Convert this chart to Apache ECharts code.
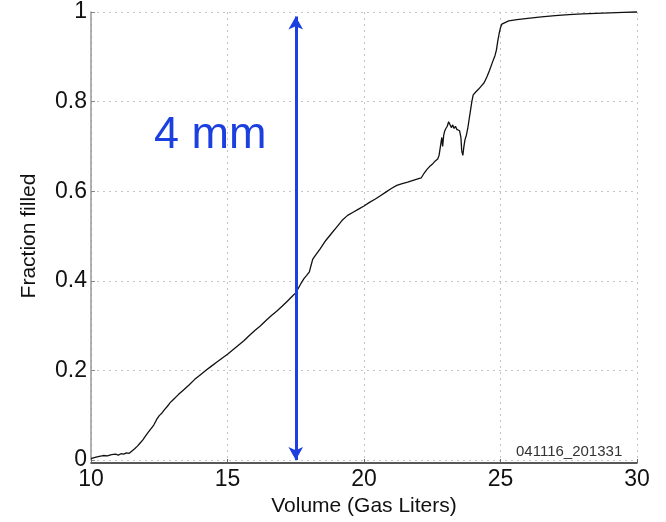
<!DOCTYPE html>
<html>
<head>
<meta charset="utf-8">
<script src="https://cdn.jsdelivr.net/npm/echarts@6/dist/echarts.min.js"></script>
<style>html,body{margin:0;padding:0;background:#fff;}#c{width:666px;height:522px;}</style>
</head>
<body>
<div id="c"></div>
<script>
const volume = [10.0,10.15,10.3,10.45,10.6,10.75,10.9,11.0,11.1,11.2,11.3,11.4,11.5,11.6,11.7,11.8,11.9,12.0,12.1,12.2,12.3,12.4,12.5,12.6,12.7,12.8,12.9,13.0,13.2,13.4,13.6,13.8,14.0,14.2,14.4,14.6,14.8,15.0,15.2,15.4,15.6,15.8,16.0,16.2,16.4,16.6,16.8,17.0,17.2,17.4,17.5,17.6,17.7,17.8,17.9,18.0,18.05,18.1,18.12,18.2,18.4,18.6,18.8,19.0,19.2,19.4,19.6,19.8,20.0,20.2,20.4,20.6,20.8,21.0,21.2,21.4,21.6,21.8,22.0,22.1,22.2,22.3,22.4,22.5,22.6,22.7,22.75,22.8,22.85,22.88,22.92,22.96,23.0,23.05,23.1,23.15,23.2,23.25,23.3,23.35,23.4,23.45,23.5,23.55,23.58,23.62,23.66,23.7,23.75,23.8,23.85,23.9,23.95,24.0,24.1,24.2,24.3,24.4,24.5,24.6,24.7,24.8,24.85,24.9,24.95,25.0,25.05,25.1,25.3,25.6,26.0,26.5,27.0,27.5,28.0,28.5,29.0,29.5,30.0];
const fraction = [0.003,0.006,0.008,0.010,0.009,0.012,0.013,0.011,0.014,0.013,0.016,0.015,0.020,0.025,0.031,0.038,0.045,0.054,0.062,0.070,0.078,0.090,0.099,0.105,0.113,0.120,0.128,0.134,0.146,0.157,0.168,0.180,0.190,0.200,0.209,0.218,0.227,0.236,0.246,0.256,0.266,0.278,0.289,0.299,0.311,0.322,0.332,0.343,0.355,0.367,0.373,0.384,0.395,0.405,0.412,0.420,0.432,0.428,0.448,0.455,0.472,0.490,0.505,0.520,0.535,0.546,0.553,0.560,0.567,0.575,0.582,0.590,0.598,0.606,0.613,0.617,0.620,0.624,0.628,0.630,0.640,0.648,0.655,0.660,0.667,0.672,0.680,0.700,0.720,0.700,0.725,0.735,0.740,0.745,0.755,0.752,0.742,0.748,0.740,0.745,0.738,0.735,0.735,0.720,0.690,0.680,0.700,0.715,0.725,0.740,0.760,0.780,0.800,0.815,0.822,0.828,0.835,0.842,0.855,0.870,0.887,0.903,0.915,0.935,0.952,0.965,0.973,0.977,0.980,0.983,0.986,0.989,0.992,0.994,0.996,0.997,0.998,0.999,1.000];
const xTicks = [10,15,20,25,30];
const yTicks = [0,0.2,0.4,0.6,0.8,1];
const arrowX = 17.5;
const arrowRange = [0, 0.99];
const annotation = '4 mm';
const stamp = '041116_201331';

const chart = echarts.init(document.getElementById('c'), null, {renderer:'canvas'});
const font = 'Liberation Sans, Arial, Helvetica, sans-serif';
chart.setOption({
  animation:false,
  backgroundColor:'#fff',
  grid:{left:91,right:29,top:12,bottom:60,containLabel:false},
  xAxis:{
    type:'value',min:xTicks[0],max:xTicks[xTicks.length-1],interval:5,
    offset:3,
    name:'Volume (Gas Liters)',nameLocation:'middle',nameGap:33,
    nameTextStyle:{fontFamily:font,fontSize:21,color:'#111'},
    axisLine:{show:true,onZero:false,lineStyle:{color:'#222',width:1.5}},
    axisTick:{show:true,inside:true,length:4,lineStyle:{color:'#666'}},
    axisLabel:{fontFamily:font,fontSize:23,color:'#111',margin:5},
    splitLine:{show:true,lineStyle:{type:[2,4],color:'#c4c4c4',width:1}}
  },
  yAxis:{
    type:'value',min:0,max:1,interval:0.2,
    name:'Fraction filled',nameLocation:'middle',nameGap:51,nameRotate:90,
    nameTextStyle:{fontFamily:font,fontSize:21,color:'#111'},
    axisLine:{show:true,lineStyle:{color:'#999',width:1.5}},
    axisTick:{show:true,inside:true,length:4,lineStyle:{color:'#888'}},
    axisLabel:{fontFamily:font,fontSize:23,color:'#111',margin:4,
      formatter:v=>String(Math.round(v*10)/10)},
    splitLine:{show:true,lineStyle:{type:[2,4],color:'#c4c4c4',width:1}}
  },
  series:[{
    type:'line',
    data:volume.map((v,i)=>[v,fraction[i]]),
    showSymbol:false,
    lineStyle:{color:'#111',width:1.3},
    clip:false,
    markLine:{
      silent:true,
      symbol:['arrow','arrow'],
      symbolSize:[11,13],
      label:{show:false},
      lineStyle:{color:'#1c3fe0',width:3,type:'solid'},
      data:[[{coord:[arrowX,arrowRange[0]]},{coord:[arrowX,arrowRange[1]]}]]
    }
  }],
  graphic:[
    {type:'text',left:154,top:113,style:{text:annotation,fontFamily:font,fontSize:45,fill:'#1c3fe0'}},
    {type:'text',left:516,top:444,style:{text:stamp,fontFamily:font,fontSize:15,fill:'#333'}}
  ]
});
</script>
</body>
</html>
